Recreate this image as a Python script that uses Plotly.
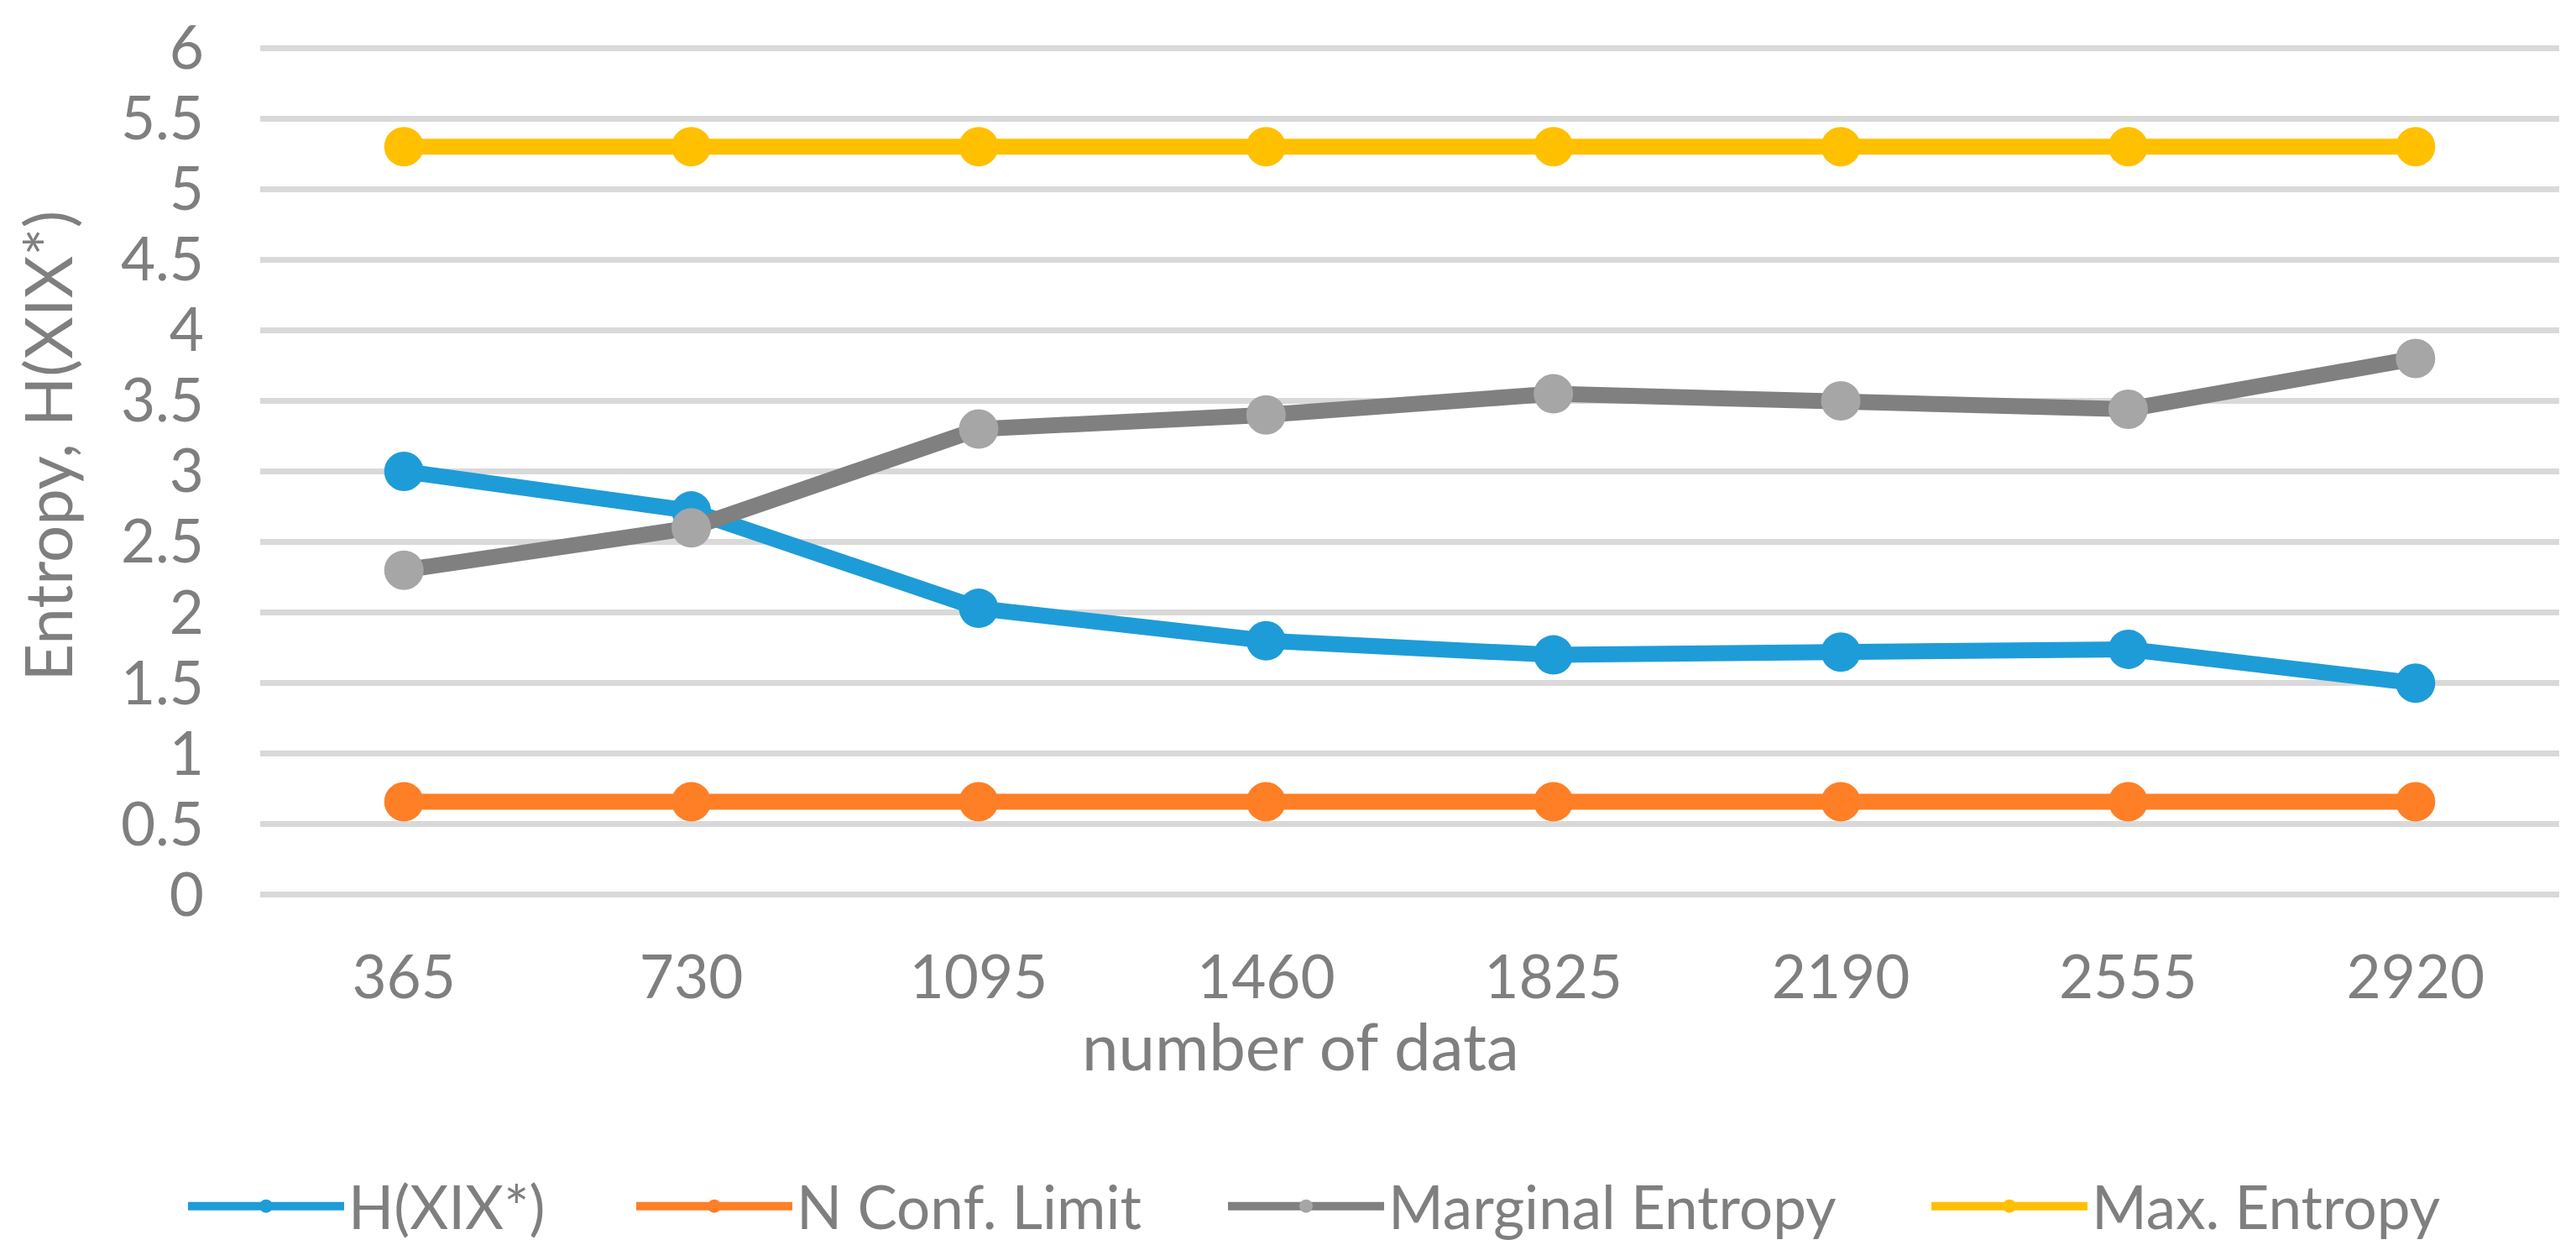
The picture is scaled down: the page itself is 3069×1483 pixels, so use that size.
import plotly.graph_objects as go

categories = ["365", "730", "1095", "1460", "1825", "2190", "2555", "2920"]
h_xix = [3.00, 2.72, 2.03, 1.80, 1.70, 1.72, 1.74, 1.50]
n_conf_limit = [0.66, 0.66, 0.66, 0.66, 0.66, 0.66, 0.66, 0.66]
marginal_entropy = [2.30, 2.60, 3.30, 3.40, 3.55, 3.50, 3.44, 3.80]
max_entropy = [5.30, 5.30, 5.30, 5.30, 5.30, 5.30, 5.30, 5.30]
y_ticks = [0, 0.5, 1, 1.5, 2, 2.5, 3, 3.5, 4, 4.5, 5, 5.5, 6]

FONT = "Lato"
TXT = "#7F7F7F"
W, H = 3069, 1483

series = [
    ("H(XIX*)", h_xix, "#1E9CD8", "#1E9CD8", "legend"),
    ("N Conf. Limit", n_conf_limit, "#FE7F26", "#FE7F26", "legend2"),
    ("Marginal Entropy", marginal_entropy, "#808080", "#A6A6A6", "legend3"),
    ("Max. Entropy", max_entropy, "#FFC000", "#FFC000", "legend4"),
]
legend_left_px = [219, 753, 1458, 2296]

fig = go.Figure()
for name, vals, lc, mc, lg in series:
    fig.add_trace(go.Scatter(
        x=categories, y=vals, name=name, mode="lines+markers",
        line=dict(color=lc, width=19),
        marker=dict(color=mc, size=47, line=dict(width=0)),
        legend=lg,
    ))

def legend_cfg(px):
    return dict(orientation="h", x=px / W, xanchor="left", xref="container",
                y=1 - 1437 / H, yref="container", yanchor="middle",
                font=dict(size=71, color=TXT, family=FONT),
                itemwidth=186, bgcolor="rgba(0,0,0,0)", borderwidth=0)

fig.update_layout(
    width=W, height=H,
    margin=dict(l=310, r=20, t=47, b=416),
    paper_bgcolor="white", plot_bgcolor="white",
    font=dict(family=FONT, color=TXT, size=71),
    showlegend=True,
    legend=legend_cfg(legend_left_px[0]),
    legend2=legend_cfg(legend_left_px[1]),
    legend3=legend_cfg(legend_left_px[2]),
    legend4=legend_cfg(legend_left_px[3]),
    xaxis=dict(type="category", range=[-0.5, 7.5], showgrid=False, zeroline=False,
               showline=False, ticks="", ticklabelstandoff=50,
               tickfont=dict(size=71, color=TXT, family=FONT)),
    yaxis=dict(range=[-0.006, 6.006], tickvals=y_ticks, ticktext=[f"{v:g}" for v in y_ticks],
               showgrid=True, gridcolor="#D9D9D9", gridwidth=7, zeroline=False,
               showline=False, ticks="", ticklabelstandoff=66,
               tickfont=dict(size=71, color=TXT, family=FONT)),
    annotations=[
        dict(text="number of data", xref="paper", yref="paper", x=0.4527, y=-0.176,
             xanchor="center", yanchor="middle", showarrow=False,
             font=dict(size=78, color=TXT, family=FONT)),
        dict(text="Entropy, H(XIX*)", xref="paper", yref="paper", x=0, y=(1067 - 527) / 1020,
             xanchor="center", yanchor="middle", showarrow=False, textangle=-90,
             xshift=56 - 310,
             font=dict(size=78, color=TXT, family=FONT)),
    ],
)

fig.write_html("out.html", config={"displayModeBar": False},
               post_script="document.body.style.margin='0px';document.body.style.overflow='hidden';")
